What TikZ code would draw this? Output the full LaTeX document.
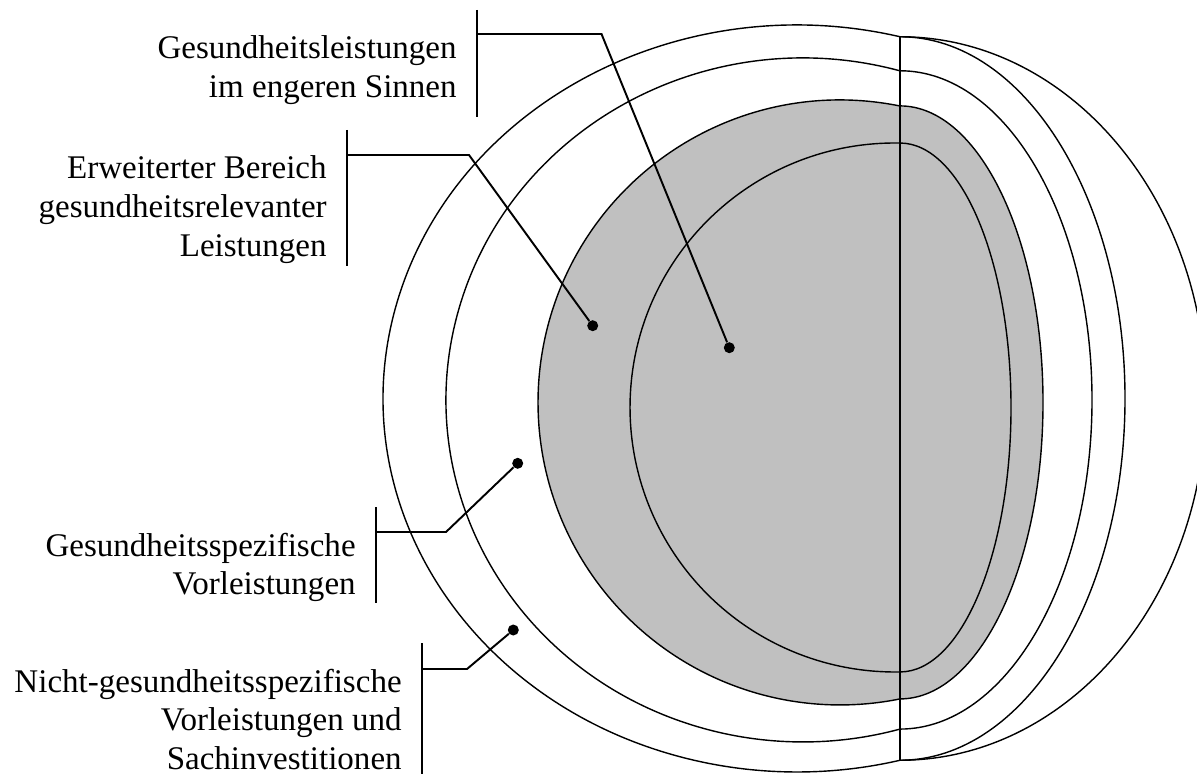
\documentclass[tikz,border=0pt]{standalone}
\usepackage{fontspec}
\setmainfont{Liberation Serif}
\usetikzlibrary{positioning}
\definecolor{shade}{RGB}{192,192,192}
\tikzset{lbl/.style={align=right, inner sep=0pt, font=\fontsize{18.8}{22}\selectfont}}
\tikzset{ring/.style={line width=0.8pt}}
\tikzset{brk/.style={line width=1.3pt}}
\tikzset{ldr/.style={line width=1.1pt}}
\tikzset{pin/.style={circle, fill, inner sep=0pt, minimum size=2.2mm}}

\begin{document}
\begin{tikzpicture}
        \useasboundingbox (0,0) rectangle (23.94,15.46);
        \clip (0,0) rectangle (23.94,15.46);

        \coordinate (top) at (18,14.725);
        \coordinate (bot) at (18,0.255);

        % outer ring, two right halves
        \draw[ring] (top) arc[start angle=75.6, end angle=284.4, x radius=8.28, y radius=7.47]
            arc[start angle=-90, end angle=90, x radius=4.5, y radius=7.235];
        \draw[ring] (top) arc[start angle=90, end angle=-90, x radius=6.12, y radius=7.235];

        \draw[ring] (18,14.043) arc[start angle=74.23, end angle=285.77, x radius=7.14, y radius=6.84]
            arc[start angle=-90, end angle=90, x radius=3.84, y radius=6.583];

        \filldraw[ring, fill=shade] (18,13.34) arc[start angle=78.54, end angle=281.46, x radius=6.04, y radius=6.05]
            arc[start angle=-90, end angle=90, x radius=2.86, y radius=5.93] -- cycle;

        \draw[ring] (18,12.599) arc[start angle=88.92, end angle=271.08, x radius=5.3, y radius=5.29]
            arc[start angle=-90, end angle=90, x radius=2.22, y radius=5.289];

        \draw[ring] (top) -- (bot);

        % brackets and leaders
        \coordinate (b1t) at (9.54,15.26);
        \coordinate (b1b) at (9.54,13.12);
        \coordinate (k1) at (12.03,14.78);
        \node[pin] (p1) at (14.586,8.506) {};

        \coordinate (b2t) at (6.94,12.86);
        \coordinate (b2b) at (6.94,10.14);
        \coordinate (k2) at (9.38,12.36);
        \node[pin] (p2) at (11.854,8.946) {};

        \coordinate (b3t) at (7.52,5.32);
        \coordinate (b3b) at (7.52,3.40);
        \coordinate (k3) at (8.92,4.82);
        \node[pin] (p3) at (10.354,6.194) {};

        \coordinate (b4t) at (8.44,2.60);
        \coordinate (b4b) at (8.44,-0.1);
        \coordinate (k4) at (9.34,2.08);
        \node[pin] (p4) at (10.266,2.86) {};

        \node[lbl, below left=0.51 and 0.4 of b1t] (t1) {Gesundheitsleistungen\\im engeren Sinnen};
        \node[lbl, below left=0.51 and 0.4 of b2t] (t2) {Erweiterter Bereich\\gesundheitsrelevanter\\Leistungen};
        \node[lbl, below left=0.51 and 0.4 of b3t] (t3) {Gesundheitsspezifische\\Vorleistungen};
        \node[lbl, below left=0.51 and 0.4 of b4t] (t4) {Nicht-gesundheitsspezifische\\Vorleistungen und\\Sachinvestitionen};

        \draw[brk] (b1t) -- (b1b);
        \draw[brk] (b2t) -- (b2b);
        \draw[brk] (b3t) -- (b3b);
        \draw[brk] (b4t) -- (b4b);

        \draw[ldr] (b1t |- k1) -- (k1) -- (p1);
        \draw[ldr] (b2t |- k2) -- (k2) -- (p2);
        \draw[ldr] (b3t |- k3) -- (k3) -- (p3);
        \draw[ldr] (b4t |- k4) -- (k4) -- (p4);
    \end{tikzpicture}
\end{document}
